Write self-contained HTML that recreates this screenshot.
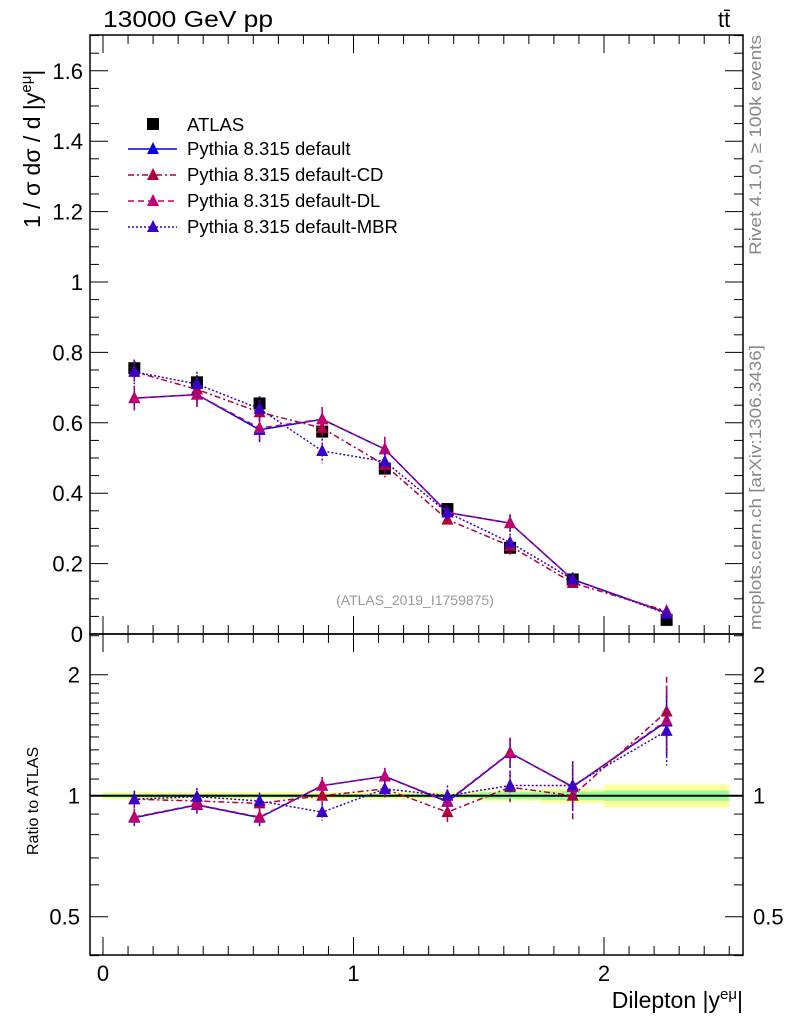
<!DOCTYPE html>
<html><head><meta charset="utf-8"><style>
body{margin:0;background:#fff;}
svg text{font-family:"Liberation Sans",sans-serif;}
</style></head><body>
<svg id="c" width="786" height="1024" viewBox="0 0 786 1024" xmlns="http://www.w3.org/2000/svg">
<text x="103" y="27" font-size="23" textLength="170" lengthAdjust="spacingAndGlyphs">13000 GeV pp</text>
<text x="718" y="27" font-size="22">tt̄</text>
<text transform="translate(761,255) rotate(-90)" font-size="17" fill="#888" textLength="220" lengthAdjust="spacingAndGlyphs">Rivet 4.1.0, ≥ 100k events</text>
<text transform="translate(761,630) rotate(-90)" font-size="17" fill="#888" textLength="285" lengthAdjust="spacingAndGlyphs">mcplots.cern.ch [arXiv:1306.3436]</text>
<text x="415" y="605" font-size="14" fill="#999" text-anchor="middle">(ATLAS_2019_I1759875)</text>
<text transform="translate(40,228) rotate(-90)" font-size="23">1 / σ  dσ / d |y<tspan font-size="15" dy="-9">eμ</tspan><tspan dy="9">|</tspan></text>
<text transform="translate(38,855) rotate(-90)" font-size="16">Ratio to ATLAS</text>
<text x="743" y="1008" font-size="23" text-anchor="end">Dilepton |y<tspan font-size="15" dy="-9">eμ</tspan><tspan dy="9">|</tspan></text>
<g id="g"></g>
</svg>
<script>
const binLo=[0,0.25,0.5,0.75,1,1.25,1.5,1.75,2];
const binHi=[0.25,0.5,0.75,1,1.25,1.5,1.75,2,2.5];
const xCenters=[0.125,0.375,0.625,0.875,1.125,1.375,1.625,1.875,2.25];
const atlas=[0.755,0.715,0.655,0.575,0.47,0.355,0.245,0.155,0.04];
const atlasErr=[0.02,0.02,0.02,0.015,0.012,0.01,0.01,0.008,0.004];
const bandYellow=[0.02,0.02,0.02,0.02,0.02,0.02,0.03,0.04,0.065];
const bandGreen=[0.01,0.01,0.01,0.01,0.01,0.012,0.02,0.025,0.03];
const mcDefault=[0.67,0.68,0.58,0.61,0.525,0.345,0.315,0.155,0.06];
const mcCD=[0.745,0.695,0.63,0.585,0.48,0.325,0.25,0.145,0.065];
const mcDL=[0.67,0.68,0.585,0.61,0.525,0.345,0.315,0.155,0.061];
const mcMBR=[0.745,0.71,0.64,0.52,0.49,0.345,0.26,0.155,0.058];
const rDefault=[0.882,0.948,0.882,1.059,1.117,0.966,1.277,1.053,1.53];
const rCD=[0.98,0.97,0.957,1.0,1.04,0.91,1.05,1.0,1.62];
const rDL=[0.885,0.95,0.885,1.06,1.117,0.97,1.28,1.05,1.54];
const rMBR=[0.98,0.995,0.97,0.91,1.04,1.0,1.06,1.06,1.45];
const mcErr=[0.035,0.035,0.035,0.035,0.035,0.02,0.025,0.02,0.008];
const rErr=[0.05,0.05,0.05,0.05,0.05,0.06,0.09,0.15,0.22];
const mainTicks=[0,0.2,0.4,0.6,0.8,1,1.2,1.4,1.6];
const mainTickLabels=["0","0.2","0.4","0.6","0.8","1","1.2","1.4","1.6"];
const ratioTicks=[0.5,1,2];
const ratioTickLabels=["0.5","1","2"];
const xTicks=[0,1,2];
const xTickLabels=["0","1","2"];

const L=90,R=743,T=35,M=634,B=955;
const X=v=>103+(v)*250.5;
const Y=v=>634-v*352;
const RY=v=>795.7-Math.log2(v)*121;
const NS="http://www.w3.org/2000/svg";
const g=document.getElementById('g');
function el(t,a,p){const e=document.createElementNS(NS,t);for(const k in a)e.setAttribute(k,a[k]);(p||g).appendChild(e);return e;}

for(let i=0;i<binLo.length;i++){
 let e=el('rect',{x:X(binLo[i]),y:RY(1+bandYellow[i]),width:X(binHi[i])-X(binLo[i]),height:RY(1-bandYellow[i])-RY(1+bandYellow[i]),fill:'#ffff99'});
 
 
 e=el('rect',{x:X(binLo[i]),y:RY(1+bandGreen[i]),width:X(binHi[i])-X(binLo[i]),height:RY(1-bandGreen[i])-RY(1+bandGreen[i]),fill:'#99ff99'});
 
 
}
let ln=el('line',{x1:L,x2:R,y1:RY(1),y2:RY(1),stroke:'#000','stroke-width':2});



let f=el('rect',{x:L,y:T,width:R-L,height:M-T,fill:'none',stroke:'#000','stroke-width':1.5});


f=el('rect',{x:L,y:M,width:R-L,height:B-M,fill:'none',stroke:'#000','stroke-width':1.5});



for(let v=0;v<=1.7001;v+=0.05){const y=Y(v);const maj=Math.abs(v/0.2-Math.round(v/0.2))<1e-6;const w=maj?18:9;
 el('line',{x1:L,x2:L+w,y1:y,y2:y,stroke:'#000'});el('line',{x1:R,x2:R-w,y1:y,y2:y,stroke:'#000'});}
mainTicks.forEach((v,i)=>{const t=el('text',{x:L-7,y:Y(v)+8,'font-size':22,'text-anchor':'end'});t.textContent=mainTickLabels[i];
 
 });
[0.4,0.5,0.6,0.7,0.8,0.9,1,1.1,1.2,1.3,1.4,1.5,1.6,1.7,1.8,1.9,2,2.5].forEach(v=>{const y=RY(v);const maj=[0.5,1,2].includes(v);const w=maj?18:9;
 el('line',{x1:L,x2:L+w,y1:y,y2:y,stroke:'#000'});el('line',{x1:R,x2:R-w,y1:y,y2:y,stroke:'#000'});});
ratioTicks.forEach((v,i)=>{let t=el('text',{x:L-10,y:RY(v)+8,'font-size':22,'text-anchor':'end'});t.textContent=ratioTickLabels[i];
 
 
 t=el('text',{x:R+10,y:RY(v)+8,'font-size':22});t.textContent=ratioTickLabels[i];
 
 });
for(let v=0;v<=2.55;v+=0.1){const x=X(v);const maj=Math.abs(v-Math.round(v))<1e-6;const h=maj?18:9;
 el('line',{x1:x,x2:x,y1:T,y2:T+h,stroke:'#000'});el('line',{x1:x,x2:x,y1:M,y2:M-h,stroke:'#000'});
 el('line',{x1:x,x2:x,y1:M,y2:M+h,stroke:'#000'});el('line',{x1:x,x2:x,y1:B,y2:B-h,stroke:'#000'});}
xTicks.forEach((v,i)=>{const t=el('text',{x:X(v),y:981,'font-size':22,'text-anchor':'middle'});t.textContent=xTickLabels[i];
 
 });

function tri(x,y,c,p){return el('path',{d:`M${x-6},${y+5}L${x+6},${y+5}L${x},${y-7}Z`,fill:c},p);}
const series=[
 {name:'default',main:mcDefault,r:rDefault,c:'#0000e0',dash:''},
 {name:'cd',main:mcCD,r:rCD,c:'#b00038',dash:'6,3,2,3'},
 {name:'dl',main:mcDL,r:rDL,c:'#c00070',dash:'6,4'},
 {name:'mbr',main:mcMBR,r:rMBR,c:'#3a00c8',dash:'2,2'}];
atlas.forEach((v,i)=>{const x=X(xCenters[i]);
 el('line',{x1:x,x2:x,y1:Y(v+atlasErr[i]),y2:Y(v-atlasErr[i]),stroke:'#000','stroke-width':2});
 const r=el('rect',{x:x-6,y:Y(v)-6,width:12,height:12,fill:'#000'});
 
 });
series.forEach(s=>{
 const grp=el('g',{});
 
 
 const pm=s.main.map((v,i)=>X(xCenters[i])+','+Y(v)).join(' ');
 el('polyline',{points:pm,fill:'none',stroke:s.c,'stroke-width':1.5,'stroke-dasharray':s.dash},grp);
 const pr=s.r.map((v,i)=>X(xCenters[i])+','+RY(v)).join(' ');
 el('polyline',{points:pr,fill:'none',stroke:s.c,'stroke-width':1.5,'stroke-dasharray':s.dash},grp);
 s.main.forEach((v,i)=>{const x=X(xCenters[i]);
  el('line',{x1:x,x2:x,y1:Y(v+mcErr[i]),y2:Y(v-mcErr[i]),stroke:s.c,'stroke-width':1.5,'stroke-dasharray':s.dash},grp);
  tri(x,Y(v),s.c,grp);
  const rv=s.r[i];
  el('line',{x1:x,x2:x,y1:RY(rv*(1+rErr[i])),y2:RY(rv/(1+rErr[i])),stroke:s.c,'stroke-width':1.5,'stroke-dasharray':s.dash},grp);
  tri(x,RY(rv),s.c,grp);});
});
const lg=el('g',{});


el('rect',{x:147,y:118,width:12,height:12,fill:'#000'},lg);
let t=el('text',{x:187,y:131,'font-size':18.5},lg);t.textContent='ATLAS';
const names=['Pythia 8.315 default','Pythia 8.315 default-CD','Pythia 8.315 default-DL','Pythia 8.315 default-MBR'];
series.forEach((s,i)=>{const y=149+i*26;
 const e=el('g',{},lg);
 
 
 el('line',{x1:128,x2:177,y1:y,y2:y,stroke:s.c,'stroke-width':1.5,'stroke-dasharray':s.dash},e);
 tri(153,y,s.c,e);
 const tt=el('text',{x:187,y:y+6,'font-size':18.5},e);tt.textContent=names[i];});
</script>
</body></html>
